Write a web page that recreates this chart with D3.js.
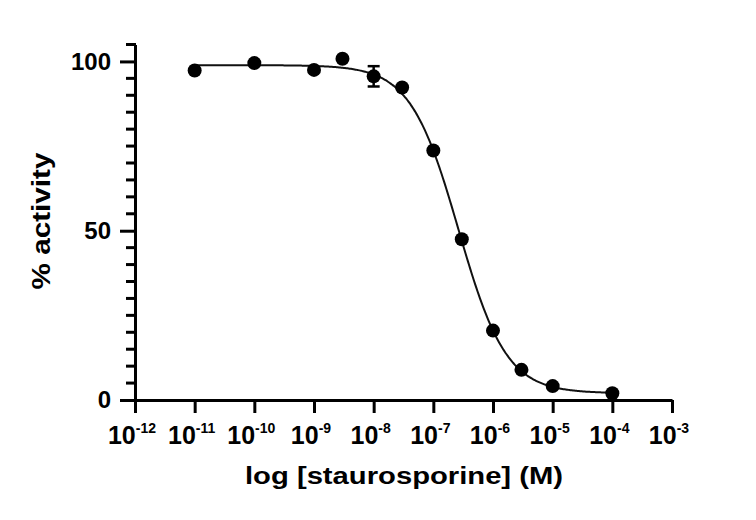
<!DOCTYPE html>
<html>
<head>
<meta charset="utf-8">
<script src="https://cdn.jsdelivr.net/npm/d3@7"></script>
<style>
  html, body { margin: 0; padding: 0; background: #fff; }
  svg { display: block; font-family: "Liberation Sans", Arial, Helvetica, sans-serif; font-weight: bold; }
</style>
</head>
<body>
<svg id="chart" width="756" height="520"></svg>
<script>
// ---- data ----
const concentrations = [1e-11, 1e-10, 1e-9, 3e-9, 1e-8, 3e-8, 1e-7, 3e-7, 1e-6, 3e-6, 1e-5, 1e-4];
const activity       = [97.3, 99.5, 97.5, 100.8, 95.6, 92.3, 73.7, 47.5, 20.5, 8.9, 4.1, 2.0];
const errors         = [0, 0, 0, 0, 3.0, 0, 0, 0, 0, 0, 0, 0];
const xTickExponents = [-12, -11, -10, -9, -8, -7, -6, -5, -4, -3];
const yTickValues    = [0, 50, 100];
const yMinorTicks    = [5, 10, 15, 20, 25, 30, 35, 40, 45, 55, 60, 65, 70, 75, 80, 85, 90, 95, 105];
// four-parameter logistic fit (top, bottom, logIC50, Hill slope)
const fitTop = 98.9, fitBottom = 2.0, fitLogIC50 = -6.58, fitHill = 1.08;
const fitRange = [1e-11, 1e-4];

const svg = d3.select("#chart");
const x = d3.scaleLog().domain([1e-12, 1e-3]).range([135, 672]);
const y = d3.scaleLinear().domain([0, 105]).range([400, 44.5]);

// minor y ticks
svg.append("g").selectAll("rect")
  .data(yMinorTicks)
  .join("rect")
  .attr("x", 126)
  .attr("y", d => y(d) - 1.5)
  .attr("width", 10)
  .attr("height", 3)
  .attr("fill", "#000");

// y axis (major ticks + line)
const yAxis = svg.append("g")
  .attr("transform", "translate(135,0)")
  .call(d3.axisLeft(y).tickValues(yTickValues).tickSize(15).tickSizeOuter(0).tickPadding(9))
  .call(g => g.select(".domain").attr("stroke", "#000").attr("stroke-width", 3))
  .call(g => g.selectAll(".tick line").attr("stroke", "#000").attr("stroke-width", 3));
yAxis.selectAll("text")
  .attr("fill", "#000")
  .style("font-size", "24px")
  .style("font-weight", "bold")
  .style("font-family", "'Liberation Sans', Arial, sans-serif");

// x axis
const xTicks = xTickExponents.map(e => Math.pow(10, e));
svg.append("g")
  .attr("transform", "translate(0,400)")
  .call(d3.axisBottom(x).tickValues(xTicks).tickSize(13).tickSizeOuter(0).tickFormat(() => ""))
  .call(g => g.selectAll(".tick line").attr("stroke", "#000").attr("stroke-width", 3))
  .call(g => g.select(".domain").attr("stroke", "#000").attr("stroke-width", 3));

// x tick labels: 10 with superscript exponent
const xl = svg.append("g");
xTickExponents.forEach(e => {
  const t = xl.append("text")
    .attr("x", x(Math.pow(10, e)) - 3)
    .attr("y", 444)
    .attr("text-anchor", "middle")
    .attr("fill", "#000");
  t.append("tspan").style("font-size", "25px").text("10");
  t.append("tspan").style("font-size", "14px").attr("dy", -11).text("-" + Math.abs(e));
});

// fitted curve
const logs = d3.range(Math.log10(fitRange[0]), Math.log10(fitRange[1]) + 0.0001, 0.02);
const curvePts = logs.map(l => [Math.pow(10, l), fitBottom + (fitTop - fitBottom) / (1 + Math.pow(10, (l - fitLogIC50) * fitHill))]);
svg.append("path")
  .datum(curvePts)
  .attr("fill", "none")
  .attr("stroke", "#111")
  .attr("stroke-width", 2)
  .attr("d", d3.line().x(d => x(d[0])).y(d => y(d[1])).curve(d3.curveBasis));

// error bars
const pts = concentrations.map((c, i) => ({c, v: activity[i], e: errors[i]}));
const eb = svg.append("g").attr("stroke", "#000").attr("stroke-width", 2.5);
pts.filter(d => d.e > 0).forEach(d => {
  eb.append("line").attr("x1", x(d.c)).attr("x2", x(d.c)).attr("y1", y(d.v - d.e)).attr("y2", y(d.v + d.e));
  [d.v - d.e, d.v + d.e].forEach(v => {
    eb.append("line").attr("x1", x(d.c) - 6).attr("x2", x(d.c) + 6).attr("y1", y(v)).attr("y2", y(v));
  });
});

// points
svg.append("g").selectAll("circle")
  .data(pts)
  .join("circle")
  .attr("cx", d => x(d.c))
  .attr("cy", d => y(d.v))
  .attr("r", 7)
  .attr("fill", "#000");

// axis titles
svg.append("text")
  .attr("x", 404)
  .attr("y", 484)
  .attr("text-anchor", "middle")
  .attr("textLength", 318)
  .attr("lengthAdjust", "spacingAndGlyphs")
  .style("font-size", "23px")
  .attr("fill", "#000")
  .text("log [staurosporine] (M)");

svg.append("text")
  .attr("transform", "translate(50,221) rotate(-90)")
  .attr("text-anchor", "middle")
  .attr("textLength", 137)
  .attr("lengthAdjust", "spacingAndGlyphs")
  .style("font-size", "25px")
  .attr("fill", "#000")
  .text("% activity");
</script>
</body>
</html>
